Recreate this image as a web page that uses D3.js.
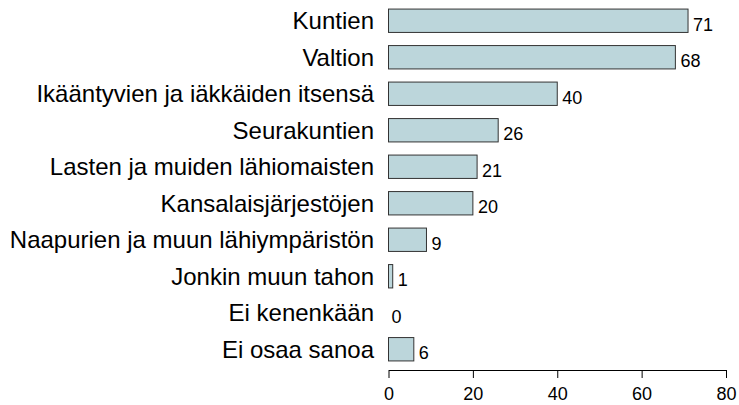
<!DOCTYPE html>
<html>
<head>
<meta charset="utf-8">
<script src="https://cdn.jsdelivr.net/npm/d3@7"></script>
<style>
  body { margin: 0; background: #fff; }
  text { font-family: "Liberation Sans", Arial, sans-serif; fill: #000; }
</style>
</head>
<body>
<div id="canvas"></div>
<script>
// data
const categories = [
    'Kuntien',
    'Valtion',
    'Ikääntyvien ja iäkkäiden itsensä',
    'Seurakuntien',
    'Lasten ja muiden lähiomaisten',
    'Kansalaisjärjestöjen',
    'Naapurien ja muun lähiympäristön',
    'Jonkin muun tahon',
    'Ei kenenkään',
    'Ei osaa sanoa'
];
const values = [71, 68, 40, 26, 21, 20, 9, 1, 0, 6];
const tickValues = [0, 20, 40, 60, 80];

// constants
const width = 739;
const height = 405;
const barFill = '#bcd6db';
const barStroke = '#333333';

const svg = d3.select('#canvas')
    .append('svg').attr('width', width).attr('height', height);

// scales
const xScale = d3.scaleLinear()
    .domain([0, 80])
    .range([388.5, 726]);
const yScale = d3.scaleBand()
    .domain(categories)
    .range([2.5, 367.5])
    .paddingInner(0.36)
    .paddingOuter(0.18);

const rows = categories.map((c, i) => ({ name: c, value: values[i] }));

// bars (no bar for zero)
svg.selectAll('.bar')
    .data(rows.filter(d => d.value > 0))
    .join('rect')
    .attr('class', 'bar')
    .attr('x', xScale(0))
    .attr('y', d => yScale(d.name))
    .attr('width', d => xScale(d.value) - xScale(0))
    .attr('height', yScale.bandwidth())
    .attr('fill', barFill)
    .attr('stroke', barStroke)
    .attr('stroke-width', 1);

// value labels, sitting low next to the bar end
svg.selectAll('.value')
    .data(rows)
    .join('text')
    .attr('class', 'value')
    .attr('x', d => xScale(d.value) + (d.value > 0 ? 5 : 3))
    .attr('y', d => yScale(d.name) + yScale.bandwidth() / 2 + 10)
    .attr('font-size', 18)
    .text(d => d.value);

// category labels
svg.selectAll('.cat')
    .data(rows)
    .join('text')
    .attr('class', 'cat')
    .attr('x', 374)
    .attr('y', d => yScale(d.name) + yScale.bandwidth() / 2)
    .attr('dy', '0.36em')
    .attr('text-anchor', 'end')
    .attr('font-size', 24)
    .text(d => d.name);

// x axis
const xAxis = d3.axisBottom(xScale)
    .tickValues(tickValues)
    .tickSize(8)
    .tickSizeOuter(0)
    .tickPadding(9);

const axisG = svg.append('g')
    .attr('transform', `translate(0,370)`)
    .call(xAxis);
axisG.select('.domain').attr('stroke', '#000');
axisG.selectAll('.tick line').attr('stroke', '#000');
axisG.selectAll('.tick text')
    .attr('font-size', 18)
    .attr('font-family', '"Liberation Sans", Arial, sans-serif');
</script>
</body>
</html>
